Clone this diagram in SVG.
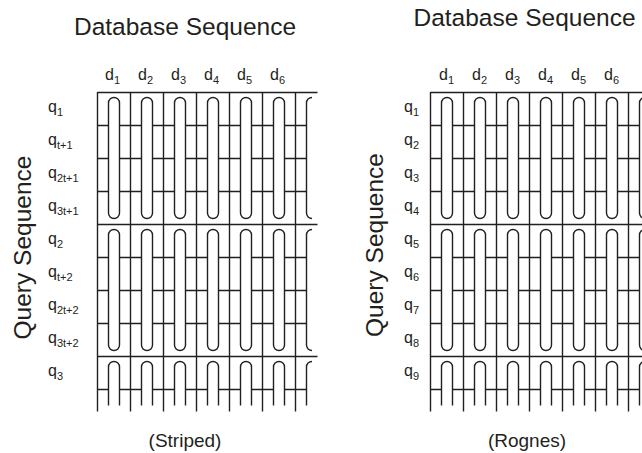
<svg xmlns="http://www.w3.org/2000/svg" width="642" height="453" viewBox="0 0 642 453">
<style>
.t{font-family:"Liberation Sans",Arial,Helvetica,sans-serif;fill:#231f20}
.title{font-size:24.5px}
.lab{font-size:16px}
.s{font-size:11px}
.cap{font-size:19px}
.ln{stroke:#231f20;stroke-width:1.4;fill:none}
.pill{stroke:#231f20;stroke-width:1.4;fill:#fff}
</style>
<defs>
<g id="col">
<rect class="pill" x="11" y="97.5" width="11" height="121" rx="5.5"/>
<rect class="pill" x="11" y="229.5" width="11" height="121" rx="5.5"/>
<path class="pill" d="M11 405.5V367A5.5 5.5 0 0 1 22 367V405.5"/>
</g>
<g id="half">
<path class="pill" d="M16.5 97.5A5.5 5.5 0 0 0 11 103V213A5.5 5.5 0 0 0 16.5 218.5"/>
<path class="pill" d="M16.5 229.5A5.5 5.5 0 0 0 11 235V345A5.5 5.5 0 0 0 16.5 350.5"/>
<path class="pill" d="M16.5 361.5A5.5 5.5 0 0 0 11 367V405.5"/>
</g>
<g id="hlines">
<path class="ln" d="M0 92.5H220M0 224.5H220M0 356.5H220"/>
<path class="ln" d="M0 125.5H208.5M0 158.5H208.5M0 191.5H208.5M0 257.5H208.5M0 290.5H208.5M0 323.5H208.5M0 389.5H208.5"/>
</g>
<g id="vlines">
<path class="ln" d="M0 92V411.5M33 92V411.5M66 92V411.5M99 92V411.5M132 92V411.5M165 92V411.5M198 92V411.5"/>
</g>
<g id="grid">
<use href="#hlines"/>
<use href="#col" x="0"/>
<use href="#col" x="33"/>
<use href="#col" x="66"/>
<use href="#col" x="99"/>
<use href="#col" x="132"/>
<use href="#col" x="165"/>
<use href="#half" x="198"/>
<use href="#vlines"/>
</g>
</defs>

<g id="striped">
<text class="t title" x="185" y="35" text-anchor="middle">Database Sequence</text>
<text class="t title" transform="translate(31 247.5) rotate(-90)" text-anchor="middle">Query Sequence</text>
<g id="striped-cols" class="t lab">
<text x="105" y="80">d<tspan class="s" dy="4">1</tspan></text>
<text x="138" y="80">d<tspan class="s" dy="4">2</tspan></text>
<text x="171" y="80">d<tspan class="s" dy="4">3</tspan></text>
<text x="204" y="80">d<tspan class="s" dy="4">4</tspan></text>
<text x="237" y="80">d<tspan class="s" dy="4">5</tspan></text>
<text x="270" y="80">d<tspan class="s" dy="4">6</tspan></text>
</g>
<g id="striped-rows" class="t lab">
<text x="48" y="112">q<tspan class="s" dy="4">1</tspan></text>
<text x="48" y="145">q<tspan class="s" dy="4">t+1</tspan></text>
<text x="48" y="178">q<tspan class="s" dy="4">2t+1</tspan></text>
<text x="48" y="211">q<tspan class="s" dy="4">3t+1</tspan></text>
<text x="48" y="244">q<tspan class="s" dy="4">2</tspan></text>
<text x="48" y="277">q<tspan class="s" dy="4">t+2</tspan></text>
<text x="48" y="310">q<tspan class="s" dy="4">2t+2</tspan></text>
<text x="48" y="343">q<tspan class="s" dy="4">3t+2</tspan></text>
<text x="48" y="376">q<tspan class="s" dy="4">3</tspan></text>
</g>
<use id="striped-grid" href="#grid" x="97.5"/>
<text class="t cap" x="185" y="447" text-anchor="middle">(Striped)</text>
</g>

<g id="rognes">
<text class="t title" x="524.5" y="26" text-anchor="middle">Database Sequence</text>
<text class="t title" transform="translate(383 245) rotate(-90)" text-anchor="middle">Query Sequence</text>
<g id="rognes-cols" class="t lab">
<text x="439" y="80">d<tspan class="s" dy="4">1</tspan></text>
<text x="472" y="80">d<tspan class="s" dy="4">2</tspan></text>
<text x="505" y="80">d<tspan class="s" dy="4">3</tspan></text>
<text x="538" y="80">d<tspan class="s" dy="4">4</tspan></text>
<text x="571" y="80">d<tspan class="s" dy="4">5</tspan></text>
<text x="604" y="80">d<tspan class="s" dy="4">6</tspan></text>
</g>
<g id="rognes-rows" class="t lab">
<text x="404" y="112">q<tspan class="s" dy="4">1</tspan></text>
<text x="404" y="145">q<tspan class="s" dy="4">2</tspan></text>
<text x="404" y="178">q<tspan class="s" dy="4">3</tspan></text>
<text x="404" y="211">q<tspan class="s" dy="4">4</tspan></text>
<text x="404" y="244">q<tspan class="s" dy="4">5</tspan></text>
<text x="404" y="277">q<tspan class="s" dy="4">6</tspan></text>
<text x="404" y="310">q<tspan class="s" dy="4">7</tspan></text>
<text x="404" y="343">q<tspan class="s" dy="4">8</tspan></text>
<text x="404" y="376">q<tspan class="s" dy="4">9</tspan></text>
</g>
<use id="rognes-grid" href="#grid" x="430.5"/>
<text class="t cap" x="527" y="447" text-anchor="middle">(Rognes)</text>
</g>
</svg>
